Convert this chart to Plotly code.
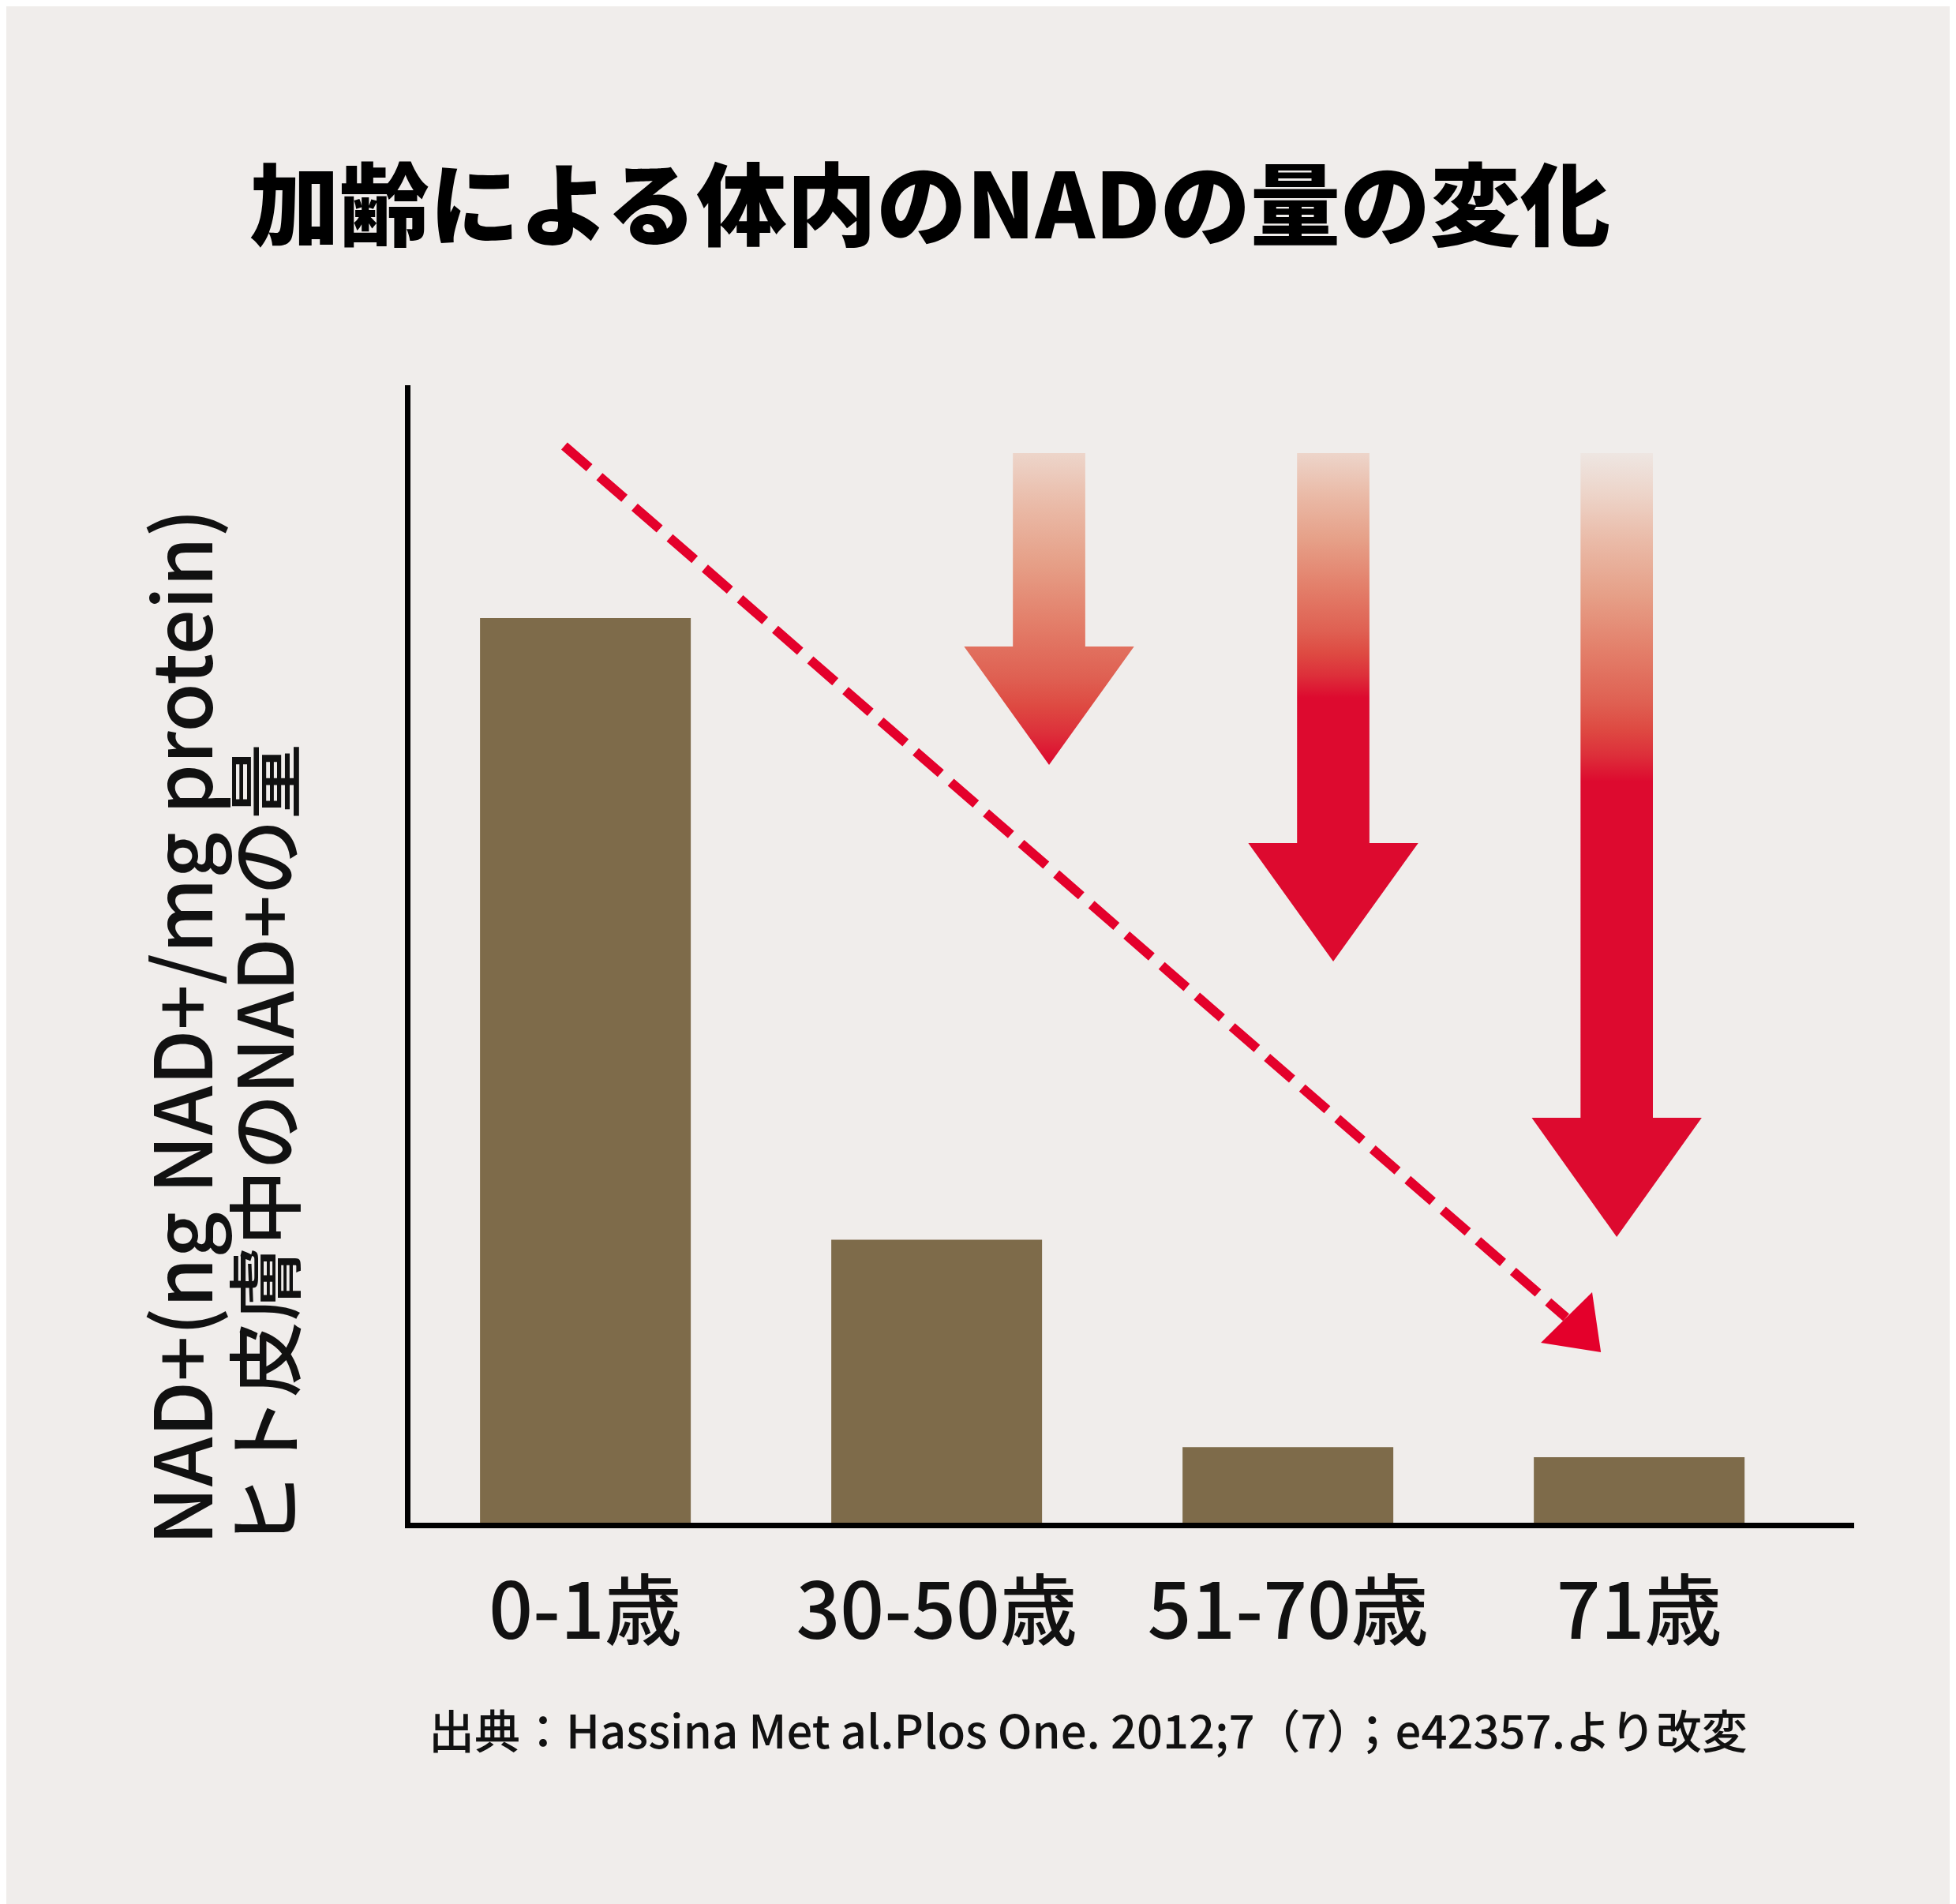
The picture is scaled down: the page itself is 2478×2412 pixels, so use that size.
import plotly.graph_objects as go

# ---- data (y axis has no scale, units are relative) ----
age_groups = ["0-1歳", "30-50歳", "51-70歳", "71歳"]
nad_level = [9.94, 3.11, 0.83, 0.72]

title_text = "加齢による体内のNADの量の変化"
y_title_1 = "NAD+(ng NAD+/mg protein)"
y_title_2 = "ヒト皮膚中のNAD+の量"
source_text = "出典：Hassina Met al.Plos One. 2012;7（7）；e42357.より改変"

# ---- page geometry / style ----
W, H = 2478, 2412
OFF = 8  # page body margin
# plot box wanted on the page: left 520, right 2349, top 488, bottom 1929
ML, MT = 520 - OFF, 488 - OFF
MR, MB = W - (2349 - OFF), H - (1929 - OFF)
PW = W - ML - MR
PH = H - MT - MB

BG = "#F0EDEB"
BAR = "#7E6B4A"
RED = "#DD0A2F"
DASH_RED = "#E4002B"
FONT = "Noto Sans CJK JP"

x_pos = list(range(len(age_groups)))
X_RANGE = [-0.498, 3.612]
Y_RANGE = [0, 12.5]


def px_x(p):
    # page pixel -> paper x
    return (p - OFF - ML) / PW


def px_y(p):
    # page pixel -> paper y
    return (MT + PH - (p - OFF)) / PH


fig = go.Figure()

fig.add_trace(go.Bar(
    x=x_pos, y=nad_level, width=0.6,
    marker=dict(color=BAR, line=dict(width=0)),
    hoverinfo="skip",
))

# decorative gradient arrows: center x, top, head base, tip, red point, faint point (data units)
arrows = [
    (1.320, 11.754, 9.629, 8.328, 8.362, 12.214),
    (2.129, 11.754, 7.469, 6.168, 9.065, 12.118),
    (2.936, 11.754, 4.450, 3.140, 8.145, 11.754),
]
SHAFT_HW, HEAD_HW = 0.103, 0.242
arrow_scale = [
    [0.0, RED], [0.08, "#DD2F3A"], [0.16, "#DE4A42"], [0.24, "#DF6052"],
    [0.40, "#E37F6A"], [0.57, "#E6A088"], [0.73, "#EABAA7"], [0.88, "#EDD5CA"],
    [1.0, "#EEE6E2"],
]
for cx, top, base, tip, red_at, faint_at in arrows:
    ax_ = [cx - SHAFT_HW, cx + SHAFT_HW, cx + SHAFT_HW, cx + HEAD_HW, cx,
           cx - HEAD_HW, cx - SHAFT_HW, cx - SHAFT_HW]
    ay_ = [top, top, base, base, tip, base, base, top]
    fig.add_trace(go.Scatter(
        x=ax_, y=ay_, mode="lines", fill="toself",
        line=dict(width=0, color="rgba(0,0,0,0)"),
        fillgradient=dict(type="vertical", colorscale=arrow_scale,
                          start=red_at, stop=faint_at),
        hoverinfo="skip",
    ))

# dashed trend arrow
trend_x = [-0.060, 2.792]
trend_y = [11.832, 2.255]
fig.add_trace(go.Scatter(
    x=trend_x, y=trend_y, mode="lines",
    line=dict(color=DASH_RED, width=12, dash="42px,17px"),
    hoverinfo="skip",
))
head_x = [2.866, 2.891, 2.720, 2.866]
head_y = [2.533, 1.874, 1.978, 2.533]
fig.add_trace(go.Scatter(
    x=head_x, y=head_y, mode="lines", fill="toself", fillcolor=DASH_RED,
    line=dict(width=0, color=DASH_RED), hoverinfo="skip",
))

fig.update_xaxes(
    range=X_RANGE, tickvals=x_pos, ticktext=age_groups,
    showline=True, linecolor="black", linewidth=7,
    showgrid=False, zeroline=False, ticks="",
    tickfont=dict(family=FONT, size=98, color="#111111", weight=500),
    ticklabelstandoff=22,
)
fig.update_yaxes(
    range=Y_RANGE, showline=True, linecolor="black", linewidth=7,
    showgrid=False, zeroline=False, showticklabels=False, ticks="",
)

fig.add_annotation(
    text=y_title_1, textangle=-90, xref="paper", yref="paper",
    x=px_x(225), y=px_y(1960), xanchor="center", yanchor="bottom",
    showarrow=False, font=dict(family=FONT, size=101, color="#111111", weight=500),
)
fig.add_annotation(
    text=y_title_2, textangle=-90, xref="paper", yref="paper",
    x=px_x(330), y=px_y(1964), xanchor="center", yanchor="bottom",
    showarrow=False, font=dict(family=FONT, size=96, color="#111111", weight=500),
)
fig.add_annotation(
    text=source_text, xref="paper", yref="paper",
    x=px_x(1378), y=px_y(2190), xanchor="center", yanchor="middle",
    showarrow=False, font=dict(family=FONT, size=58, color="#111111", weight=500),
)

fig.update_layout(
    width=W, height=H,
    margin=dict(l=ML, r=MR, t=MT, b=MB),
    paper_bgcolor=BG, plot_bgcolor=BG,
    showlegend=False,
    title=dict(
        text=title_text, xref="container", yref="container",
        x=(1178 - OFF) / W, y=1 - (262 - OFF) / H,
        xanchor="center", yanchor="middle",
        font=dict(family=FONT, size=114, color="#000000", weight=900),
    ),
)

fig.write_html("out.html")
